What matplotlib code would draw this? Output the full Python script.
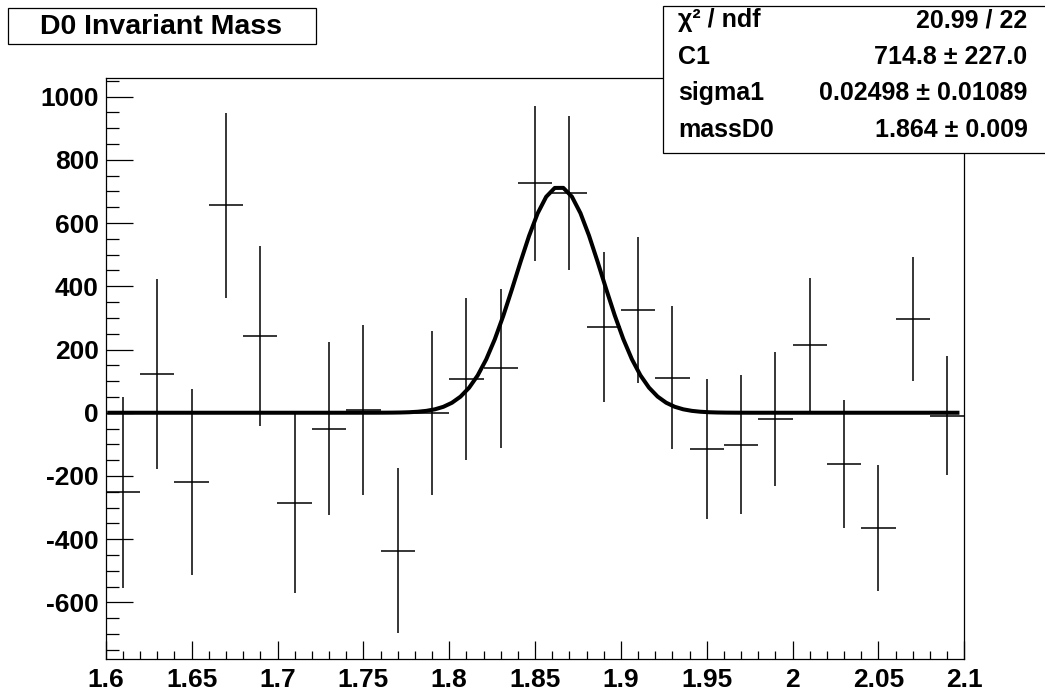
import numpy as np
import matplotlib
matplotlib.use("Agg")
import matplotlib.pyplot as plt
from matplotlib.patches import Rectangle
from matplotlib.ticker import MultipleLocator, FuncFormatter

# histogram bins (centres), contents and errors
mass = [1.61, 1.63, 1.65, 1.67, 1.69, 1.71, 1.73, 1.75, 1.77, 1.79,
        1.81, 1.83, 1.85, 1.87, 1.89, 1.91, 1.93, 1.95, 1.97, 1.99,
        2.01, 2.03, 2.05, 2.07, 2.09]
counts = [-252, 122, -220, 656, 243, -286, -50, 9, -436, 0,
          108, 141, 726, 695, 271, 325, 111, -114, -101, -20,
          215, -162, -364, 297, -10]
errors = [301, 300, 294, 293, 285, 283, 274, 270, 262, 260,
          256, 251, 245, 244, 238, 232, 226, 221, 219, 211,
          212, 202, 200, 196, 188]
bin_half = 0.01

# gaussian fit result
C1 = 714.8
sigma1 = 0.02498
massD0 = 1.864

stat_names = ["\u03c7\u00b2 / ndf", "C1", "sigma1", "massD0"]
stat_values = ["20.99 / 22", "714.8 \u00b1 227.0", "0.02498 \u00b1 0.01089", "1.864 \u00b1 0.009"]

W, H = 1045, 692
font = "Liberation Sans"

fig = plt.figure(figsize=(W / 100, H / 100), dpi=100)

def px(x0, y0, w, h):
    # pixel box (top-left origin) -> figure fraction
    return (x0 / W, 1 - (y0 + h) / H, w / W, h / H)

ax = fig.add_axes(px(105.8, 78.3, 964.3 - 105.8, 659.3 - 78.3))

ax.errorbar(mass, counts, yerr=errors, xerr=bin_half, fmt="none",
            ecolor="black", elinewidth=1.1, capsize=0)

xf = np.linspace(1.602, 2.096, 100)
yf = C1 * np.exp(-0.5 * ((xf - massD0) / sigma1) ** 2)
ax.plot(xf, yf, color="black", lw=2.9)

ax.set_xlim(1.6, 2.1)
ax.set_ylim(-780, 1058)

ax.xaxis.set_major_locator(MultipleLocator(0.05))
ax.xaxis.set_minor_locator(MultipleLocator(0.01))
ax.yaxis.set_major_locator(MultipleLocator(200))
ax.yaxis.set_minor_locator(MultipleLocator(50))
ax.xaxis.set_major_formatter(FuncFormatter(lambda v, p: "%g" % round(v, 3)))
ax.yaxis.set_major_formatter(FuncFormatter(lambda v, p: "%d" % round(v)))

ax.tick_params(axis="both", which="both", direction="in", width=0.9, color="black")
ax.tick_params(axis="x", which="major", length=12.7, pad=6)
ax.tick_params(axis="x", which="minor", length=5.8)
ax.tick_params(axis="y", which="major", length=19.2, pad=5)
ax.tick_params(axis="y", which="minor", length=9.6)
for lab in ax.get_xticklabels() + ax.get_yticklabels():
    lab.set_fontfamily(font)
    lab.set_fontweight("bold")
    lab.set_fontsize(19)
for sp in ax.spines.values():
    sp.set_linewidth(0.9)

# title box
tb = px(8, 8, 308, 36)
fig.add_artist(Rectangle(tb[:2], tb[2], tb[3], transform=fig.transFigure,
                         facecolor="white", edgecolor="black", lw=0.9, zorder=5))
fig.text(161 / W, 1 - 26.5 / H, "D0 Invariant Mass", ha="center", va="center",
         fontfamily=font, fontweight="bold", fontsize=20.5, zorder=6)

# stats box
sb = px(663, 6, 400, 147)
fig.add_artist(Rectangle(sb[:2], sb[2], sb[3], transform=fig.transFigure,
                         facecolor="white", edgecolor="black", lw=0.9, zorder=5))
rows_y = [20, 57, 93, 130]
for name, val, ry in zip(stat_names, stat_values, rows_y):
    fig.text(678 / W, 1 - ry / H, name, ha="left", va="center",
             fontfamily=font, fontweight="bold", fontsize=18, zorder=6)
    fig.text(1027.5 / W, 1 - ry / H, val, ha="right", va="center",
             fontfamily=font, fontweight="bold", fontsize=18, zorder=6)

fig.savefig("out.png", dpi=100)
